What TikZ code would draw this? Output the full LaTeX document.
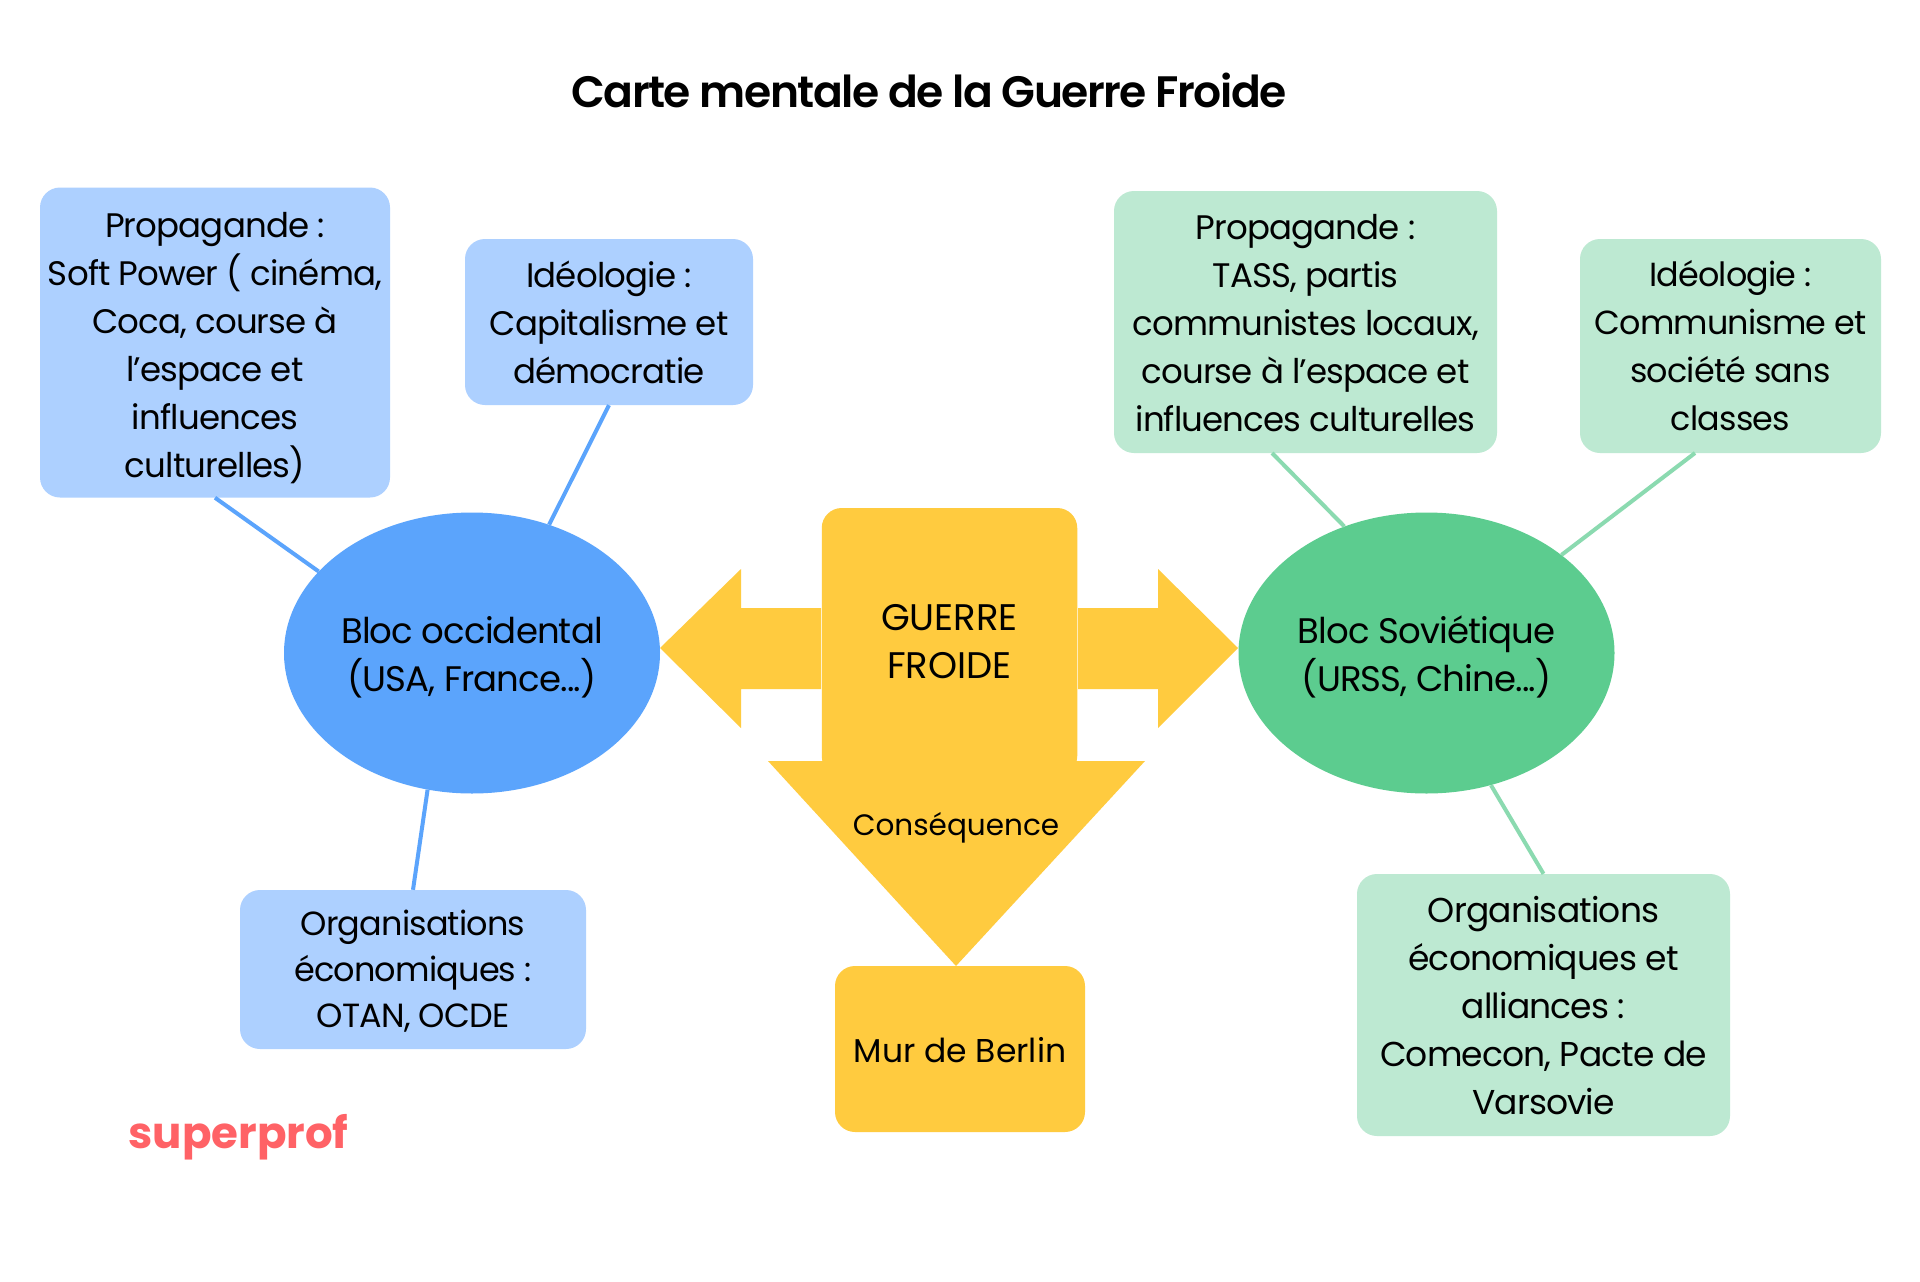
\documentclass[tikz,border=0pt]{standalone}
\usepackage{fontspec}
\setmainfont{Poppins}
\newfontfamily\bodyfont[LetterSpace=-2.5]{Poppins}
\newfontfamily\widefont{Poppins}
\newfontfamily\titlefont[LetterSpace=-3.5]{Poppins SemiBold}
\newfontfamily\logofont{Poppins Bold}
\usetikzlibrary{shapes.geometric}
\definecolor{bluelight}{HTML}{ADD0FF}
\definecolor{bluemain}{HTML}{5BA4FC}
\definecolor{greenlight}{HTML}{BDE9D2}
\definecolor{greenmain}{HTML}{5CCC8F}
\definecolor{greenline}{HTML}{8BDAB0}
\definecolor{gold}{HTML}{FFCB3F}
\definecolor{logored}{HTML}{FF6266}
\newcommand{\toppad}[1]{\rule{0pt}{#1pt}}
\tikzset{
  x=1pt,y=-1pt,
  bodytext/.style={font=\bodyfont\fontsize{34}{48}\selectfont,align=center,text=black,inner sep=0pt},
  box/.style={bodytext,rectangle,rounded corners=20pt},
  bluebox/.style={box,fill=bluelight},
  greenbox/.style={box,fill=greenlight},
  goldbox/.style={rectangle,rounded corners=20pt,fill=gold,inner sep=0pt,align=center,text=black},
  bloc/.style={bodytext,font=\bodyfont\fontsize{35.5}{48}\selectfont,ellipse,minimum width=376pt,minimum height=281pt},
  blueline/.style={draw=bluemain,line width=4pt},
  greenline/.style={draw=greenline,line width=4pt},
}
\begin{document}
\begin{tikzpicture}
\useasboundingbox (0,0) rectangle (1920,1282);
\fill[white] (0,0) rectangle (1920,1282);
\node[font=\titlefont\fontsize{44}{50}\selectfont,text=black,inner sep=0pt] (title) at (929,90) {Carte mentale de la Guerre Froide};

\node[bluebox,minimum width=350pt,minimum height=310pt] (bp) at (215,342.5) {\toppad{36}Propagande :\\Soft Power ( cinéma,\\Coca, course à\\l’espace et\\influences\\culturelles)};
\node[bluebox,minimum width=288pt,minimum height=166pt] (bi) at (609,322) {Idéologie :\\Capitalisme et\\démocratie};
\node[bluebox,font=\bodyfont\fontsize{33.5}{46}\selectfont,minimum width=346pt,minimum height=159pt] (bo) at (413,969.5) {\toppad{29}Organisations\\économiques :\\OTAN, OCDE};
\node[bloc,fill=bluemain] (bw) at (472,653) {\toppad{36}Bloc occidental\\(USA, France{.}{.}{.})};

\node[greenbox,minimum width=383pt,minimum height=262pt] (gp) at (1305.5,322) {\toppad{28}Propagande :\\TASS, partis\\communistes locaux,\\course à l’espace et\\influences culturelles};
\node[greenbox,font=\bodyfont\fontsize{33.4}{48}\selectfont,minimum width=301pt,minimum height=214pt] (gi) at (1730.5,346) {Idéologie :\\Communisme et\\société sans\\classes};
\node[greenbox,font=\bodyfont\fontsize{34.5}{48}\selectfont,minimum width=373pt,minimum height=262pt] (go) at (1543.5,1005) {\toppad{28}Organisations\\économiques et\\alliances :\\Comecon, Pacte de\\Varsovie};
\node[bloc,fill=greenmain] (gw) at (1426.5,653) {\toppad{36}Bloc Soviétique\\(URSS, Chine{.}{.}{.})};

\draw[blueline] (bp.south) -- (bw.152.5);
\draw[blueline] (bi.south) -- (bw.59.8);
\draw[blueline] (bo.north) -- (bw.252.6);
\coordinate (gpfoot) at (1272,453);
\coordinate (gifoot) at (1695,453);
\draw[greenline] (gpfoot) -- (gw.123.4);
\draw[greenline] (gifoot) -- (gw.36);
\draw[greenline] (go.north) -- (gw.296.9);

\node[goldbox,font=\widefont\fontsize{37}{48}\selectfont,minimum width=255.5pt,minimum height=268pt] (gf) at (949.5,642) {GUERRE\\FROIDE};
\fill[gold] (660,648) -- (741,569) -- (741,608) -- (821,608) -- (821,689) -- (741,689) -- (741,728) -- cycle;
\fill[gold] (1238,648) -- (1158,569) -- (1158,608) -- (1078,608) -- (1078,689) -- (1158,689) -- (1158,728) -- cycle;
\fill[gold] (768,761) -- (1145,761) -- (956,966) -- cycle;
\node[font=\widefont\fontsize{29.5}{36}\selectfont,text=black,inner sep=0pt] (cq) at (956,828) {Conséquence};
\node[goldbox,font=\widefont\fontsize{33}{48}\selectfont,minimum width=250pt,minimum height=166pt,text depth=0pt] (mb) at (960,1049) {\toppad{27}Mur de Berlin};

\node[font=\logofont\fontsize{43.5}{50}\selectfont,text=logored,inner sep=0pt] (logo) at (238.5,1137) {superprof};
\end{tikzpicture}
\end{document}
